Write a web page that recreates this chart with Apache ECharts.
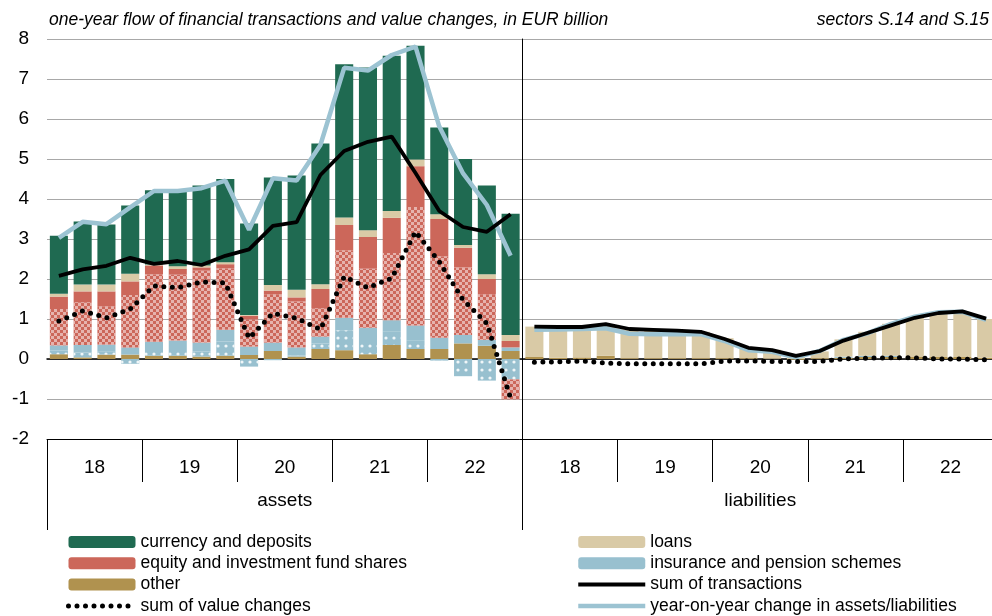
<!DOCTYPE html>
<html>
<head>
<meta charset="utf-8">
<script src="https://cdn.jsdelivr.net/npm/echarts@6/dist/echarts.min.js"></script>
<style>
  html, body { margin: 0; padding: 0; background: #fff; }
  #main { width: 992px; height: 616px; }
</style>
</head>
<body>
<div id="main"></div>
<script>
const years = ['18', '19', '20', '21', '22']
const sides = ['assets', 'liabilities']

// assets, 2018Q1 .. 2022Q4
const otherA = [0.12, 0.04, 0.11, 0.11, 0.08, 0.08, 0.06, 0.08, 0.10, 0.20, 0.06, 0.25, 0.22, 0.12, 0.35, 0.25, 0.25, 0.39, 0.33, 0.20]
const insVcA = [0.09, 0.12, 0.07, -0.12, 0.12, 0.17, 0.13, 0.36, -0.19, -0.03, 0.03, 0.14, 0.50, 0.33, 0.33, 0.22, -0.04, -0.43, -0.54, -0.51]
const insA = [0.13, 0.19, 0.18, 0.18, 0.23, 0.21, 0.22, 0.29, 0.21, 0.21, 0.20, 0.17, 0.31, 0.33, 0.29, 0.37, 0.28, 0.21, 0.15, 0.09]
const eqVcA = [0.91, 1.07, 0.96, 1.31, 1.69, 1.65, 1.80, 1.54, 0.68, 1.21, 1.15, 0.71, 1.69, 1.48, 1.68, 2.96, 2.04, 1.69, 1.14, -0.50]
const eqA = [0.31, 0.27, 0.37, 0.34, 0.22, 0.14, 0.08, 0.10, 0.09, 0.09, 0.10, 0.48, 0.63, 0.79, 0.88, 1.02, 0.93, 0.49, 0.38, 0.16]
const loansA = [0.07, 0.17, 0.17, 0.19, 0.02, 0.07, 0.05, 0.05, 0.02, 0.14, 0.19, 0.12, 0.19, 0.17, 0.17, 0.17, 0.12, 0.07, 0.12, 0.15]
const curA = [1.45, 1.58, 1.50, 1.71, 1.86, 1.88, 2.00, 2.08, 2.29, 2.69, 2.86, 3.52, 3.83, 4.07, 3.88, 2.84, 2.17, 2.15, 2.22, 3.03]
const sumTxA = [2.08, 2.24, 2.33, 2.53, 2.38, 2.45, 2.35, 2.58, 2.74, 3.33, 3.42, 4.60, 5.20, 5.43, 5.56, 4.65, 3.70, 3.30, 3.18, 3.62]
const sumVcA = [0.95, 1.20, 1.03, 1.25, 1.83, 1.78, 1.93, 1.90, 0.52, 1.14, 1.02, 0.74, 2.06, 1.78, 2.02, 3.18, 2.43, 1.48, 0.89, -0.98]
const yoyA = [3.03, 3.43, 3.37, 3.79, 4.20, 4.20, 4.27, 4.46, 3.23, 4.52, 4.46, 5.35, 7.28, 7.21, 7.60, 7.81, 5.81, 4.64, 3.85, 2.58]

// liabilities, 2018Q1 .. 2022Q4
const otherL = [0.05, 0.03, 0.04, 0.08, 0.02, 0.02, 0.02, 0.02, 0.02, 0.02, 0.01, -0.02, 0.02, 0.03, 0.05, 0.05, 0.05, 0.05, 0.05, 0.03]
const insVcL = [0, 0, 0, 0, 0, 0, 0, 0, 0, 0, 0, 0, 0, 0.03, 0.03, 0.03, 0, 0, 0, 0]
const loansL = [0.76, 0.75, 0.76, 0.79, 0.72, 0.70, 0.67, 0.66, 0.50, 0.27, 0.22, 0.05, 0.17, 0.43, 0.60, 0.80, 1.00, 1.10, 1.12, 0.97]
const sumTxL = [0.81, 0.80, 0.80, 0.87, 0.75, 0.73, 0.71, 0.68, 0.50, 0.28, 0.22, 0.08, 0.20, 0.46, 0.65, 0.84, 1.03, 1.15, 1.19, 1.01]
const sumVcL = [-0.08, -0.07, -0.05, -0.10, -0.12, -0.12, -0.12, -0.12, -0.05, -0.05, -0.06, -0.06, -0.06, 0.00, 0.02, 0.03, 0.03, 0.00, 0.00, -0.02]
const yoyL = [0.73, 0.74, 0.75, 0.77, 0.63, 0.62, 0.62, 0.62, 0.45, 0.22, 0.18, 0.04, 0.20, 0.48, 0.64, 0.88, 1.06, 1.17, 1.18, 0.98]

const quarters = []
const yearCats = []
sides.forEach((s) => {
  years.forEach((y) => {
    yearCats.push(s[0] + y)
    for (let q = 1; q <= 4; q++) quarters.push(s + ' ' + y + 'Q' + q)
  })
})
const zeros = otherA.map(() => 0)
const blank = otherA.map(() => '-')

const font = 'Liberation Sans, Arial, sans-serif'
const C = {
  cur: '#1f6a51',
  eq: '#cc675a',
  other: '#b0924f',
  loans: '#d9caa6',
  ins: '#98c0cf',
  yoy: '#9cc3d2'
}
const eqDecal = {
  symbol: 'rect',
  symbolSize: 1,
  color: 'rgba(255,255,255,0.5)',
  dashArrayX: [[3, 3], [0, 3, 3, 0]],
  dashArrayY: [3, 0]
}
const insDecal = {
  symbol: 'circle',
  symbolSize: 0.8,
  color: 'rgba(255,255,255,0.85)',
  dashArrayX: 4,
  dashArrayY: 4
}

function bar(name, data, color, decal) {
  return {
    name: name,
    type: 'bar',
    stack: 'all',
    barCategoryGap: '24%',
    data: data,
    itemStyle: decal ? { color: color, decal: decal } : { color: color }
  }
}
function line(name, data, style) {
  return {
    name: name,
    type: 'line',
    data: data,
    symbol: 'none',
    color: style.color,
    lineStyle: style
  }
}
// line entries in the legend: hide the marker circle, keep the line
function lineItem(name, width) {
  return { name: name, itemStyle: { opacity: 0 }, lineStyle: { width: width } }
}

const yoyStyle = { color: C.yoy, width: 4.5 }
const txStyle = { color: '#000', width: 3.8 }
const vcStyle = { color: '#000', width: 5, type: [0, 8.5], cap: 'round' }

const legendBase = {
  top: 533,
  orient: 'vertical',
  itemWidth: 67,
  itemHeight: 12,
  itemGap: 3.3,
  padding: 0,
  textStyle: { fontSize: 17.5, color: '#000', fontFamily: font }
}

const chart = echarts.init(document.getElementById('main'))
chart.setOption({
  animation: false,
  textStyle: { fontFamily: font },
  title: [{
    text: 'one-year flow of financial transactions and value changes, in EUR billion',
    left: 49,
    top: 11,
    padding: 0,
    textStyle: { fontStyle: 'italic', fontWeight: 'normal', fontSize: 17.5, color: '#000', fontFamily: font }
  }, {
    text: 'sectors S.14 and S.15',
    right: 3,
    top: 11,
    padding: 0,
    textStyle: { fontStyle: 'italic', fontWeight: 'normal', fontSize: 17.5, color: '#000', fontFamily: font }
  }],
  legend: [
    Object.assign({}, legendBase, {
      left: 66,
      data: ['currency and deposits', 'equity and investment fund shares', 'other', lineItem('sum of value changes', 5)]
    }),
    Object.assign({}, legendBase, {
      left: 576,
      data: ['loans', 'insurance and pension schemes', lineItem('sum of transactions', 4), lineItem('year-on-year change in assets/liabilities', 4.5)]
    })
  ],
  grid: { left: 47, top: 39, width: 951, height: 400, outerBoundsMode: 'none' },
  xAxis: [{
    type: 'category',
    data: quarters,
    position: 'bottom',
    axisLine: { onZero: true, lineStyle: { color: '#000', width: 1.5 } },
    axisTick: { show: false },
    axisLabel: { show: false },
    splitLine: { show: false }
  }, {
    type: 'category',
    data: yearCats,
    position: 'bottom',
    axisLine: { onZero: false, lineStyle: { color: '#000', width: 1 } },
    axisTick: { show: true, interval: 0, length: 43, lineStyle: { color: '#000' } },
    axisLabel: { interval: 0, margin: 19, fontSize: 19, color: '#000', formatter: (v) => v.slice(1) }
  }, {
    type: 'category',
    data: sides,
    position: 'bottom',
    axisLine: { show: false, onZero: false },
    axisTick: { show: true, interval: 0, length: 91, lineStyle: { color: '#000' } },
    axisLabel: { interval: 0, margin: 52, fontSize: 19, color: '#000' },
    splitLine: { show: false }
  }],
  yAxis: [{
    type: 'value',
    min: -2,
    max: 8,
    interval: 1,
    axisLine: { show: false },
    axisTick: { show: false },
    axisLabel: { fontSize: 19, color: '#000', margin: 18 },
    splitLine: { lineStyle: { color: '#a8a8a8', width: 1.2 } }
  }, {
    // divider between assets and liabilities
    type: 'value',
    min: -2,
    max: 8,
    interval: 1,
    position: 'left',
    offset: -475.5,
    axisLine: { show: true, onZero: false, lineStyle: { color: '#000', width: 1 } },
    axisTick: { show: false },
    axisLabel: { show: false },
    splitLine: { show: false }
  }],
  series: [
    bar('other', otherA.concat(otherL), C.other),
    bar('insurance VC', insVcA.concat(insVcL), C.ins, insDecal),
    bar('insurance and pension schemes', insA.concat(zeros), C.ins),
    bar('equity VC', eqVcA.concat(zeros), C.eq, eqDecal),
    bar('equity and investment fund shares', eqA.concat(zeros), C.eq),
    bar('loans', loansA.concat(loansL), C.loans),
    bar('currency and deposits', curA.concat(zeros), C.cur),
    line('year-on-year change in assets/liabilities', yoyA.concat(blank), yoyStyle),
    line('year-on-year change in assets/liabilities', blank.concat(yoyL), yoyStyle),
    line('sum of transactions', sumTxA.concat(blank), txStyle),
    line('sum of transactions', blank.concat(sumTxL), txStyle),
    line('sum of value changes', sumVcA.concat(blank), vcStyle),
    line('sum of value changes', blank.concat(sumVcL), vcStyle)
  ]
})
</script>
</body>
</html>
